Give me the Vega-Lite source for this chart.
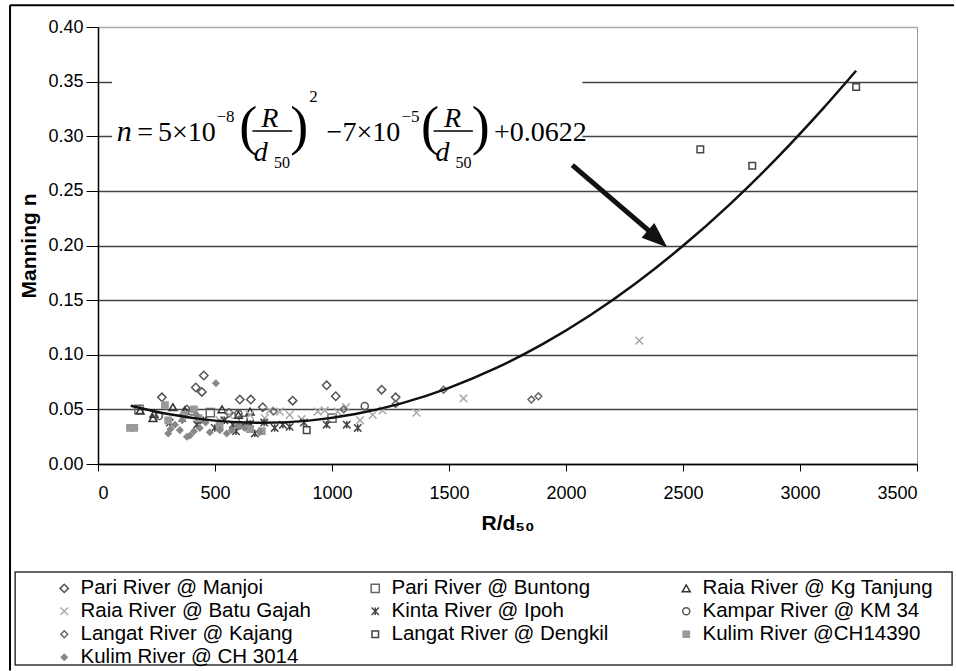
{
  "$schema": "https://vega.github.io/schema/vega-lite/v6.json",
  "width": 819,
  "height": 437,
  "padding": {"left": 9, "top": 4, "right": 0, "bottom": 0},
  "background": "white",
  "config": {
    "view": {"stroke": "#999", "strokeWidth": 1},
    "font": "Liberation Sans",
    "axis": {"domainColor": "#000", "tickColor": "#000", "labelColor": "#000", "titleColor": "#000", "labelFont": "Liberation Sans", "titleFont": "Liberation Sans"}
  },
  "datasets": {
    "obs": [
      {"site": "Pari River @ Manjoi", "rd": 452, "n": 0.081},
      {"site": "Pari River @ Manjoi", "rd": 418, "n": 0.070},
      {"site": "Pari River @ Manjoi", "rd": 444, "n": 0.066},
      {"site": "Pari River @ Manjoi", "rd": 273, "n": 0.061},
      {"site": "Pari River @ Manjoi", "rd": 606, "n": 0.059},
      {"site": "Pari River @ Manjoi", "rd": 653, "n": 0.059},
      {"site": "Pari River @ Manjoi", "rd": 832, "n": 0.058},
      {"site": "Pari River @ Manjoi", "rd": 977, "n": 0.072},
      {"site": "Pari River @ Manjoi", "rd": 1016, "n": 0.062},
      {"site": "Pari River @ Manjoi", "rd": 1212, "n": 0.068},
      {"site": "Pari River @ Manjoi", "rd": 1272, "n": 0.061},
      {"site": "Pari River @ Manjoi", "rd": 704, "n": 0.052},
      {"site": "Pari River @ Manjoi", "rd": 380, "n": 0.050},
      {"site": "Pari River @ Manjoi", "rd": 560, "n": 0.047},
      {"site": "Pari River @ Buntong", "rd": 175, "n": 0.050},
      {"site": "Pari River @ Buntong", "rd": 480, "n": 0.047},
      {"site": "Pari River @ Buntong", "rd": 620, "n": 0.040},
      {"site": "Pari River @ Buntong", "rd": 1000, "n": 0.042},
      {"site": "Raia River @ Kg Tanjung", "rd": 180, "n": 0.049},
      {"site": "Raia River @ Kg Tanjung", "rd": 239, "n": 0.046},
      {"site": "Raia River @ Kg Tanjung", "rd": 235, "n": 0.042},
      {"site": "Raia River @ Kg Tanjung", "rd": 320, "n": 0.052},
      {"site": "Raia River @ Kg Tanjung", "rd": 371, "n": 0.049},
      {"site": "Raia River @ Kg Tanjung", "rd": 530, "n": 0.050},
      {"site": "Raia River @ Kg Tanjung", "rd": 600, "n": 0.045},
      {"site": "Raia River @ Kg Tanjung", "rd": 650, "n": 0.048},
      {"site": "Raia River @ Batu Gajah", "rd": 2313, "n": 0.113},
      {"site": "Raia River @ Batu Gajah", "rd": 1562, "n": 0.060},
      {"site": "Raia River @ Batu Gajah", "rd": 1361, "n": 0.047},
      {"site": "Raia River @ Batu Gajah", "rd": 1216, "n": 0.049},
      {"site": "Raia River @ Batu Gajah", "rd": 1174, "n": 0.045},
      {"site": "Raia River @ Batu Gajah", "rd": 1024, "n": 0.048},
      {"site": "Raia River @ Batu Gajah", "rd": 969, "n": 0.049},
      {"site": "Raia River @ Batu Gajah", "rd": 939, "n": 0.048},
      {"site": "Raia River @ Batu Gajah", "rd": 777, "n": 0.048},
      {"site": "Raia River @ Batu Gajah", "rd": 819, "n": 0.045},
      {"site": "Raia River @ Batu Gajah", "rd": 713, "n": 0.042},
      {"site": "Raia River @ Batu Gajah", "rd": 734, "n": 0.049},
      {"site": "Raia River @ Batu Gajah", "rd": 649, "n": 0.045},
      {"site": "Raia River @ Batu Gajah", "rd": 1120, "n": 0.040},
      {"site": "Raia River @ Batu Gajah", "rd": 1060, "n": 0.052},
      {"site": "Raia River @ Batu Gajah", "rd": 870, "n": 0.041},
      {"site": "Raia River @ Batu Gajah", "rd": 560, "n": 0.045},
      {"site": "Raia River @ Batu Gajah", "rd": 520, "n": 0.040},
      {"site": "Kinta River @ Ipoh", "rd": 307, "n": 0.038},
      {"site": "Kinta River @ Ipoh", "rd": 423, "n": 0.036},
      {"site": "Kinta River @ Ipoh", "rd": 499, "n": 0.033},
      {"site": "Kinta River @ Ipoh", "rd": 576, "n": 0.036},
      {"site": "Kinta River @ Ipoh", "rd": 670, "n": 0.028},
      {"site": "Kinta River @ Ipoh", "rd": 755, "n": 0.033},
      {"site": "Kinta River @ Ipoh", "rd": 819, "n": 0.034},
      {"site": "Kinta River @ Ipoh", "rd": 977, "n": 0.036},
      {"site": "Kinta River @ Ipoh", "rd": 1063, "n": 0.036},
      {"site": "Kinta River @ Ipoh", "rd": 1110, "n": 0.033},
      {"site": "Kinta River @ Ipoh", "rd": 540, "n": 0.040},
      {"site": "Kinta River @ Ipoh", "rd": 620, "n": 0.035},
      {"site": "Kinta River @ Ipoh", "rd": 710, "n": 0.038},
      {"site": "Kinta River @ Ipoh", "rd": 880, "n": 0.038},
      {"site": "Kinta River @ Ipoh", "rd": 450, "n": 0.040},
      {"site": "Kinta River @ Ipoh", "rd": 360, "n": 0.042},
      {"site": "Kinta River @ Ipoh", "rd": 590, "n": 0.030},
      {"site": "Kinta River @ Ipoh", "rd": 650, "n": 0.037},
      {"site": "Kinta River @ Ipoh", "rd": 790, "n": 0.036},
      {"site": "Kampar River @ KM 34", "rd": 1140, "n": 0.053},
      {"site": "Kampar River @ KM 34", "rd": 600, "n": 0.046},
      {"site": "Kampar River @ KM 34", "rd": 400, "n": 0.048},
      {"site": "Kampar River @ KM 34", "rd": 260, "n": 0.044},
      {"site": "Langat River @ Kajang", "rd": 1852, "n": 0.059},
      {"site": "Langat River @ Kajang", "rd": 1882, "n": 0.062},
      {"site": "Langat River @ Kajang", "rd": 1477, "n": 0.068},
      {"site": "Langat River @ Kajang", "rd": 1272, "n": 0.055},
      {"site": "Langat River @ Kajang", "rd": 1050, "n": 0.050},
      {"site": "Langat River @ Kajang", "rd": 750, "n": 0.048},
      {"site": "Langat River @ Dengkil", "rd": 3240, "n": 0.345},
      {"site": "Langat River @ Dengkil", "rd": 2574, "n": 0.288},
      {"site": "Langat River @ Dengkil", "rd": 2796, "n": 0.273},
      {"site": "Langat River @ Dengkil", "rd": 892, "n": 0.031},
      {"site": "Kulim River @CH14390", "rd": 137, "n": 0.033},
      {"site": "Kulim River @CH14390", "rd": 155, "n": 0.033},
      {"site": "Kulim River @CH14390", "rd": 286, "n": 0.054},
      {"site": "Kulim River @CH14390", "rd": 370, "n": 0.045},
      {"site": "Kulim River @CH14390", "rd": 410, "n": 0.050},
      {"site": "Kulim River @CH14390", "rd": 300, "n": 0.040},
      {"site": "Kulim River @CH14390", "rd": 600, "n": 0.036},
      {"site": "Kulim River @CH14390", "rd": 650, "n": 0.032},
      {"site": "Kulim River @CH14390", "rd": 700, "n": 0.030},
      {"site": "Kulim River @CH14390", "rd": 430, "n": 0.042},
      {"site": "Kulim River @CH14390", "rd": 520, "n": 0.035},
      {"site": "Kulim River @ CH 3014", "rd": 350, "n": 0.031},
      {"site": "Kulim River @ CH 3014", "rd": 393, "n": 0.026},
      {"site": "Kulim River @ CH 3014", "rd": 329, "n": 0.036},
      {"site": "Kulim River @ CH 3014", "rd": 435, "n": 0.033},
      {"site": "Kulim River @ CH 3014", "rd": 478, "n": 0.029},
      {"site": "Kulim River @ CH 3014", "rd": 521, "n": 0.031},
      {"site": "Kulim River @ CH 3014", "rd": 572, "n": 0.031},
      {"site": "Kulim River @ CH 3014", "rd": 627, "n": 0.033},
      {"site": "Kulim River @ CH 3014", "rd": 691, "n": 0.029},
      {"site": "Kulim River @ CH 3014", "rd": 504, "n": 0.074},
      {"site": "Kulim River @ CH 3014", "rd": 380, "n": 0.025},
      {"site": "Kulim River @ CH 3014", "rd": 310, "n": 0.032},
      {"site": "Kulim River @ CH 3014", "rd": 460, "n": 0.038},
      {"site": "Kulim River @ CH 3014", "rd": 550, "n": 0.028},
      {"site": "Kulim River @ CH 3014", "rd": 600, "n": 0.035},
      {"site": "Kulim River @ CH 3014", "rd": 300, "n": 0.028},
      {"site": "Kulim River @ CH 3014", "rd": 410, "n": 0.030},
      {"site": "Kulim River @ CH 3014", "rd": 360, "n": 0.040},
      {"site": "Kulim River @ CH 3014", "rd": 420, "n": 0.045}
    ],
    "fit": [
      {"rd": 140, "n": 0.0534},
      {"rd": 300, "n": 0.0457},
      {"rd": 500, "n": 0.0397},
      {"rd": 700, "n": 0.0377},
      {"rd": 900, "n": 0.0397},
      {"rd": 1100, "n": 0.0457},
      {"rd": 1300, "n": 0.0557},
      {"rd": 1500, "n": 0.0697},
      {"rd": 1700, "n": 0.0877},
      {"rd": 1900, "n": 0.1097},
      {"rd": 2100, "n": 0.1357},
      {"rd": 2300, "n": 0.1657},
      {"rd": 2500, "n": 0.1997},
      {"rd": 2700, "n": 0.2377},
      {"rd": 2900, "n": 0.2797},
      {"rd": 3100, "n": 0.3257},
      {"rd": 3240, "n": 0.3600}
    ]
  },
  "layer": [
    {
      "data": {"values": [{}]},
      "mark": {"type": "rect", "fill": "white", "stroke": null},
      "encoding": {
        "x": {"datum": 60, "type": "quantitative", "scale": {"domain": [0, 3500], "nice": false}, "axis": {"title": "R/d₅₀", "values": [0, 500, 1000, 1500, 2000, 2500, 3000, 3500], "format": "d", "grid": false, "tickSize": 7, "labelFontSize": 18, "labelPadding": 13, "titleFontSize": 21, "titleFontWeight": "bold", "titlePadding": 10, "domainWidth": 1.5}},
        "x2": {"datum": 2070},
        "y": {"datum": 0.262, "type": "quantitative", "scale": {"domain": [0, 0.4], "nice": false}, "axis": {"title": "Manning n", "values": [0, 0.05, 0.1, 0.15, 0.2, 0.25, 0.3, 0.35, 0.4], "format": ".2f", "grid": true, "gridColor": {"condition": {"test": "datum.value >= 0.39", "value": "#aaa"}, "value": "#444"}, "gridWidth": 1.5, "tickSize": 12, "labelPadding": 3, "labelFontSize": 18, "titleFontSize": 21, "titleFontWeight": "bold", "titlePadding": 8, "domainWidth": 1.5}},
        "y2": {"datum": 0.36}
      }
    },
    {
      "data": {"name": "obs"},
      "mark": {"type": "point", "strokeWidth": 1.5, "opacity": 1},
      "encoding": {
        "x": {"field": "rd", "type": "quantitative"},
        "y": {"field": "n", "type": "quantitative"},
        "shape": {"field": "site", "type": "nominal", "sort": null, "scale": {"domain": ["Pari River @ Manjoi", "Pari River @ Buntong", "Raia River @ Kg Tanjung", "Raia River @ Batu Gajah", "Kinta River @ Ipoh", "Kampar River @ KM 34", "Langat River @ Kajang", "Langat River @ Dengkil", "Kulim River @CH14390", "Kulim River @ CH 3014"], "range": ["diamond", "square", "triangle-up", "M-1,-1L1,1M-1,1L1,-1", "M-1,-1L1,1M-1,1L1,-1M0,-1L0,1", "circle", "diamond", "square", "square", "diamond"]}, "legend": {"title": null, "orient": "none", "direction": "horizontal", "legendX": -44, "legendY": 551, "columns": 3, "gridAlign": "all", "columnPadding": 54, "rowPadding": 2, "labelFontSize": 20.5, "labelColor": "#000", "labelLimit": 400, "symbolStrokeWidth": 1.5, "padding": 0, "labelOffset": 6}},
        "stroke": {"field": "site", "type": "nominal", "sort": null, "scale": {"domain": ["Pari River @ Manjoi", "Pari River @ Buntong", "Raia River @ Kg Tanjung", "Raia River @ Batu Gajah", "Kinta River @ Ipoh", "Kampar River @ KM 34", "Langat River @ Kajang", "Langat River @ Dengkil", "Kulim River @CH14390", "Kulim River @ CH 3014"], "range": ["#555", "#666", "#333", "#aaa", "#444", "#555", "#666", "#444", "#999", "#888"]}},
        "fill": {"field": "site", "type": "nominal", "sort": null, "scale": {"domain": ["Pari River @ Manjoi", "Pari River @ Buntong", "Raia River @ Kg Tanjung", "Raia River @ Batu Gajah", "Kinta River @ Ipoh", "Kampar River @ KM 34", "Langat River @ Kajang", "Langat River @ Dengkil", "Kulim River @CH14390", "Kulim River @ CH 3014"], "range": ["transparent", "transparent", "transparent", "transparent", "transparent", "transparent", "transparent", "transparent", "#999", "#888"]}},
        "size": {"field": "site", "type": "nominal", "sort": null, "scale": {"domain": ["Pari River @ Manjoi", "Pari River @ Buntong", "Raia River @ Kg Tanjung", "Raia River @ Batu Gajah", "Kinta River @ Ipoh", "Kampar River @ KM 34", "Langat River @ Kajang", "Langat River @ Dengkil", "Kulim River @CH14390", "Kulim River @ CH 3014"], "range": [70, 35, 60, 140, 130, 60, 35, 35, 110, 120]}}
      }
    },
    {
      "data": {"name": "fit"},
      "mark": {"type": "line", "color": "#111", "strokeWidth": 2.5, "interpolate": "monotone"},
      "encoding": {
        "x": {"field": "rd", "type": "quantitative"},
        "y": {"field": "n", "type": "quantitative"}
      }
    },
    {
      "data": {"values": [{}]},
      "mark": {"type": "rule", "color": "#111", "strokeWidth": 5},
      "encoding": {"x": {"datum": 2027}, "y": {"datum": 0.2736}, "x2": {"datum": 2355}, "y2": {"datum": 0.2134}}
    },
    {
      "data": {"values": [{}]},
      "mark": {"type": "point", "shape": "M0,-1L0.65,0.7L-0.65,0.7Z", "filled": true, "color": "#111", "size": 900, "angle": 131, "opacity": 1},
      "encoding": {"x": {"datum": 2384}, "y": {"datum": 0.2075}}
    },
    {
      "data": {"values": [{}]},
      "mark": {"type": "text", "text": "n", "font": "Liberation Serif", "fontStyle": "italic", "fontSize": 30, "align": "left", "baseline": "alphabetic", "color": "#000"},
      "encoding": {"x": {"datum": 80}, "y": {"datum": 0.2955}}
    },
    {
      "data": {"values": [{}]},
      "mark": {"type": "text", "text": "=", "font": "Liberation Serif", "fontSize": 28, "align": "left", "baseline": "alphabetic", "color": "#000"},
      "encoding": {"x": {"datum": 168}, "y": {"datum": 0.2955}}
    },
    {
      "data": {"values": [{}]},
      "mark": {"type": "text", "text": "5×10", "font": "Liberation Serif", "fontSize": 28, "align": "left", "baseline": "alphabetic", "color": "#000"},
      "encoding": {"x": {"datum": 256}, "y": {"datum": 0.2955}}
    },
    {
      "data": {"values": [{}]},
      "mark": {"type": "text", "text": "−8", "font": "Liberation Serif", "fontSize": 17, "align": "left", "baseline": "alphabetic", "color": "#000"},
      "encoding": {"x": {"datum": 506}, "y": {"datum": 0.3129}}
    },
    {
      "data": {"values": [{}]},
      "mark": {"type": "text", "text": "(", "font": "Liberation Serif", "fontSize": 54, "align": "left", "baseline": "alphabetic", "color": "#000"},
      "encoding": {"x": {"datum": 604}, "y": {"datum": 0.2928}}
    },
    {
      "data": {"values": [{}]},
      "mark": {"type": "text", "text": "R", "font": "Liberation Serif", "fontStyle": "italic", "fontSize": 28, "align": "center", "baseline": "alphabetic", "color": "#000"},
      "encoding": {"x": {"datum": 734}, "y": {"datum": 0.3084}}
    },
    {
      "data": {"values": [{}]},
      "mark": {"type": "rule", "color": "#000", "strokeWidth": 1.5},
      "encoding": {"x": {"datum": 660}, "x2": {"datum": 830}, "y": {"datum": 0.3047}}
    },
    {
      "data": {"values": [{}]},
      "mark": {"type": "text", "text": "d", "font": "Liberation Serif", "fontStyle": "italic", "fontSize": 28, "align": "center", "baseline": "alphabetic", "color": "#000"},
      "encoding": {"x": {"datum": 696}, "y": {"datum": 0.2772}}
    },
    {
      "data": {"values": [{}]},
      "mark": {"type": "text", "text": "50", "font": "Liberation Serif", "fontSize": 16, "align": "left", "baseline": "alphabetic", "color": "#000"},
      "encoding": {"x": {"datum": 752}, "y": {"datum": 0.2708}}
    },
    {
      "data": {"values": [{}]},
      "mark": {"type": "text", "text": ")", "font": "Liberation Serif", "fontSize": 54, "align": "left", "baseline": "alphabetic", "color": "#000"},
      "encoding": {"x": {"datum": 822}, "y": {"datum": 0.2928}}
    },
    {
      "data": {"values": [{}]},
      "mark": {"type": "text", "text": "2", "font": "Liberation Serif", "fontSize": 17, "align": "left", "baseline": "alphabetic", "color": "#000"},
      "encoding": {"x": {"datum": 903}, "y": {"datum": 0.3312}}
    },
    {
      "data": {"values": [{}]},
      "mark": {"type": "text", "text": "−7×10", "font": "Liberation Serif", "fontSize": 28, "align": "left", "baseline": "alphabetic", "color": "#000"},
      "encoding": {"x": {"datum": 977}, "y": {"datum": 0.2955}}
    },
    {
      "data": {"values": [{}]},
      "mark": {"type": "text", "text": "−5", "font": "Liberation Serif", "fontSize": 17, "align": "left", "baseline": "alphabetic", "color": "#000"},
      "encoding": {"x": {"datum": 1297}, "y": {"datum": 0.3129}}
    },
    {
      "data": {"values": [{}]},
      "mark": {"type": "text", "text": "(", "font": "Liberation Serif", "fontSize": 54, "align": "left", "baseline": "alphabetic", "color": "#000"},
      "encoding": {"x": {"datum": 1380}, "y": {"datum": 0.2928}}
    },
    {
      "data": {"values": [{}]},
      "mark": {"type": "text", "text": "R", "font": "Liberation Serif", "fontStyle": "italic", "fontSize": 28, "align": "center", "baseline": "alphabetic", "color": "#000"},
      "encoding": {"x": {"datum": 1515}, "y": {"datum": 0.3084}}
    },
    {
      "data": {"values": [{}]},
      "mark": {"type": "rule", "color": "#000", "strokeWidth": 1.5},
      "encoding": {"x": {"datum": 1434}, "x2": {"datum": 1602}, "y": {"datum": 0.3047}}
    },
    {
      "data": {"values": [{}]},
      "mark": {"type": "text", "text": "d", "font": "Liberation Serif", "fontStyle": "italic", "fontSize": 28, "align": "center", "baseline": "alphabetic", "color": "#000"},
      "encoding": {"x": {"datum": 1472}, "y": {"datum": 0.2772}}
    },
    {
      "data": {"values": [{}]},
      "mark": {"type": "text", "text": "50", "font": "Liberation Serif", "fontSize": 16, "align": "left", "baseline": "alphabetic", "color": "#000"},
      "encoding": {"x": {"datum": 1528}, "y": {"datum": 0.2708}}
    },
    {
      "data": {"values": [{}]},
      "mark": {"type": "text", "text": ")", "font": "Liberation Serif", "fontSize": 54, "align": "left", "baseline": "alphabetic", "color": "#000"},
      "encoding": {"x": {"datum": 1597}, "y": {"datum": 0.2928}}
    },
    {
      "data": {"values": [{}]},
      "mark": {"type": "text", "text": "+0.0622", "font": "Liberation Serif", "fontSize": 28, "align": "left", "baseline": "alphabetic", "color": "#000"},
      "encoding": {"x": {"datum": 1692}, "y": {"datum": 0.2955}}
    },
    {
      "data": {"values": [{}]},
      "mark": {"type": "rect", "fill": null, "stroke": "#333", "strokeWidth": 1.5},
      "encoding": {"x": {"datum": -354}, "x2": {"datum": 3650}, "y": {"datum": -0.0988}, "y2": {"datum": -0.1839}}
    },
    {
      "data": {"values": [{}]},
      "mark": {"type": "rule", "color": "#000", "strokeWidth": 2},
      "encoding": {"x": {"datum": -376}, "x2": {"datum": 3658}, "y": {"datum": 0.42}}
    },
    {
      "data": {"values": [{}]},
      "mark": {"type": "rule", "color": "#000", "strokeWidth": 2},
      "encoding": {"x": {"datum": -376}, "y": {"datum": 0.42}, "y2": {"datum": -0.189}}
    }
  ]
}
